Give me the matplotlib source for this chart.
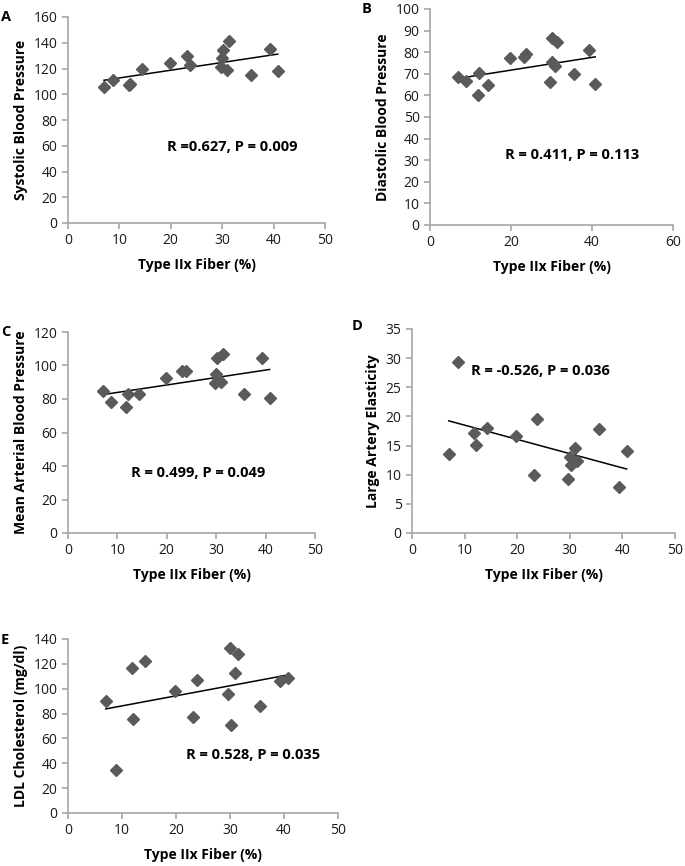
import numpy as np
import matplotlib.pyplot as plt

plt.rcParams['font.family'] = ['Open Sans', 'DejaVu Sans']

# 各面板共用的 Type IIx 纤维百分比
fiber = [7.0, 8.8, 11.8, 12.1, 14.3, 19.8, 23.1, 23.8, 29.7, 30.0, 30.2, 30.9, 31.4, 35.6, 39.3, 40.8]

sbp = [106, 111, 107, 108, 120, 124, 130, 123, 121, 128, 134, 119, 141, 115, 135, 118]
dbp = [68.5, 66.5, 60, 70.5, 65, 77.5, 78, 79, 66, 75.5, 86.5, 73.5, 84.5, 70, 81, 65.5]
mabp = [85, 78.5, 75.5, 83, 83, 92.5, 96.5, 96.5, 89.5, 95, 104.5, 90, 107, 83, 104.5, 80.5]
lae = [13.6, 29.4, 17.2, 15.1, 18, 16.7, 10, 19.5, 9.3, 13, 11.7, 14.6, 12.4, 17.8, 7.9, 14]
ldl = [90, 35, 116.5, 75.5, 122, 98.5, 77.5, 107, 96, 133, 71, 113, 128, 86, 106, 109]

letters = ['A', 'B', 'C', 'D', 'E']
ylabels = ['Systolic Blood Pressure', 'Diastolic Blood Pressure', 'Mean Arterial Blood Pressure',
           'Large Artery Elasticity', 'LDL Cholesterol (mg/dl)']
stats = ['R =0.627, P = 0.009', 'R = 0.411, P = 0.113', 'R = 0.499, P = 0.049',
         'R = -0.526, P = 0.036', 'R = 0.528, P = 0.035']
ylims = [(0, 160, 20), (0, 100, 10), (0, 120, 20), (0, 35, 5), (0, 140, 20)]
xlims = [(0, 50, 10), (0, 60, 20), (0, 50, 10), (0, 50, 10), (0, 50, 10)]
series = [sbp, dbp, mabp, lae, ldl]

W, H = 685, 866
# 轴区域像素: 左, 右, 上, 下
boxes = [(68, 325, 17, 223), (430, 673, 9, 225), (68, 315, 332, 533),
         (412, 675, 329, 533), (68, 338, 639, 813)]
# 面板字母像素位置
letpos = [(1, 17), (362, 9), (1, 332), (352, 326), (1, 640)]
# 注释文字位置(数据坐标)
txtpos = [(31.9, 59), (35.1, 32.5), (26.3, 36), (24.5, 27.8), (34.2, 47)]

fig = plt.figure(figsize=(W / 100, H / 100), dpi=100)
grey = '#a6a6a6'
for i in range(5):
    l, r, t, b = boxes[i]
    ax = fig.add_axes([l / W, 1 - b / H, (r - l) / W, (b - t) / H])
    x = np.array(fiber)
    y = np.array(series[i])
    ax.plot(x, y, 'D', ms=6.2, color='#5a5a5a', mec='#5a5a5a', zorder=3)
    k, c = np.polyfit(x, y, 1)
    xx = np.array([x.min(), x.max()])
    ax.plot(xx, k * xx + c, color='black', lw=1.1, zorder=2)
    y0, y1, ys = ylims[i]
    x0, x1, xs = xlims[i]
    ax.set_ylim(y0, y1)
    ax.set_xlim(x0, x1)
    ax.set_yticks(np.arange(y0, y1 + ys / 2, ys))
    ax.set_xticks(np.arange(x0, x1 + xs / 2, xs))
    for s in ['top', 'right']:
        ax.spines[s].set_visible(False)
    for s in ['left', 'bottom']:
        ax.spines[s].set_color(grey)
        ax.spines[s].set_linewidth(1.2)
    ax.tick_params(colors=grey, labelcolor='#1a1a1a', labelsize=10, length=4, width=1.2)
    ax.set_xlabel('Type IIx Fiber (%)', fontsize=10, fontweight='bold', labelpad=7)
    ax.set_ylabel(ylabels[i], fontsize=10, fontweight='bold', labelpad=4)
    ax.text(txtpos[i][0], txtpos[i][1], stats[i], fontsize=10.5, fontweight='bold',
            ha='center', va='center')
    fig.text(letpos[i][0] / W, 1 - letpos[i][1] / H, letters[i], fontsize=10.5,
             fontweight='bold', ha='left', va='center')

fig.savefig('out.png', dpi=100)
